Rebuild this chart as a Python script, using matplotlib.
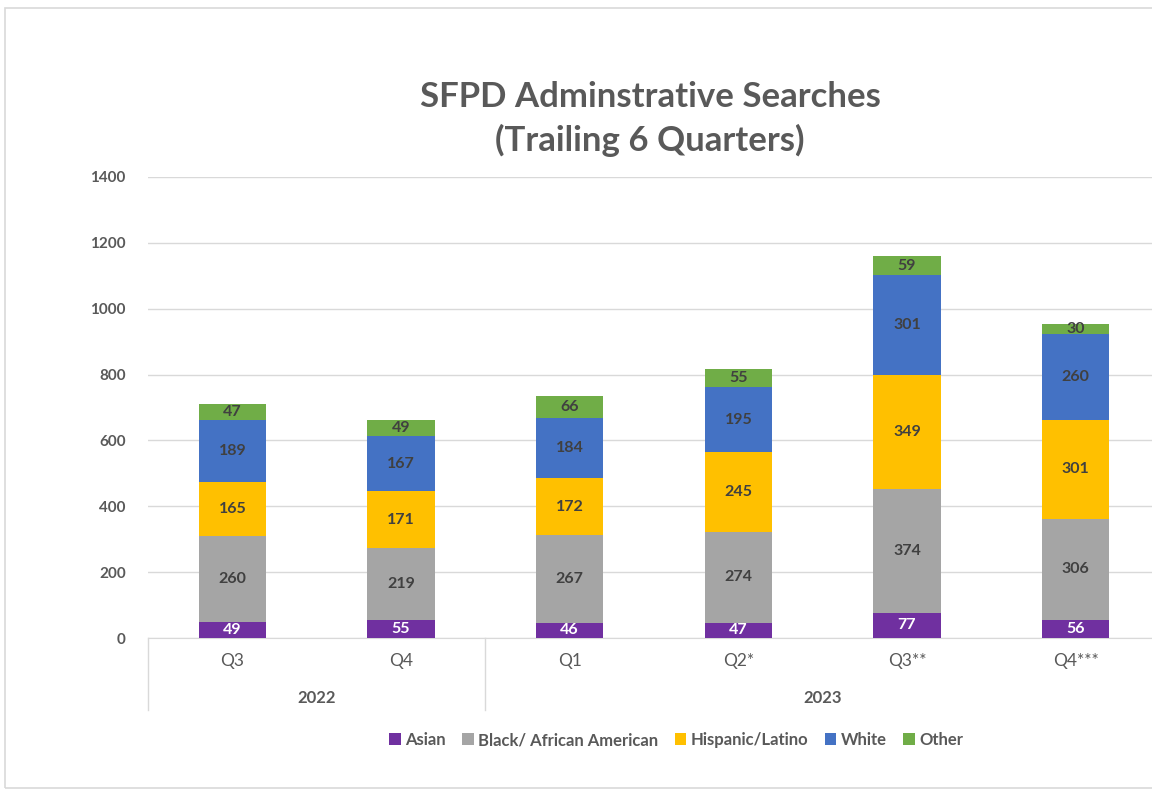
import matplotlib
matplotlib.use("Agg")
import matplotlib.pyplot as plt
from matplotlib.patches import Rectangle
import numpy as np

quarters = ["Q3", "Q4", "Q1", "Q2*", "Q3**", "Q4***"]
years = ["2022", "2023"]
year_groups = [2, 4]
series = ["Asian", "Black/ African American", "Hispanic/Latino", "White", "Other"]
asian = [49, 55, 46, 47, 77, 56]
black = [260, 219, 267, 274, 374, 306]
hispanic = [165, 171, 172, 245, 349, 301]
white = [189, 167, 184, 195, 301, 260]
other = [47, 49, 66, 55, 59, 30]
colors = ["#7030A0", "#A5A5A5", "#FFC000", "#4472C4", "#70AD47"]
label_colors = ["white", "#404040", "#404040", "#404040", "#404040"]
yticks = [0, 200, 400, 600, 800, 1000, 1200, 1400]

plt.rcParams['font.family'] = ['Lato', 'DejaVu Sans']
W, H = 1152, 791
fig = plt.figure(figsize=(W / 100, H / 100), dpi=100)
fig.patches.append(Rectangle((5 / W, 3 / H), 1.2, 1 - 11 / H, transform=fig.transFigure,
                             fill=False, edgecolor="#D9D9D9", linewidth=1.2))

left, right = 148 / W, 1160 / W
bottom, top = (H - 638) / H, (H - 177) / H
ax = fig.add_axes([left, bottom, right - left, top - bottom])

x = np.arange(len(quarters))
data = [asian, black, hispanic, white, other]
base = np.zeros(len(quarters))
for vals, c, lc, name in zip(data, colors, label_colors, series):
    vals = np.array(vals)
    bars = ax.bar(x, vals, bottom=base, width=0.40, color=c, label=name, zorder=3)
    ax.bar_label(bars, labels=[str(v) for v in vals], label_type="center",
                 color=lc, fontsize=11.5, fontweight="bold")
    base += vals

ax.set_xlim(-0.5, len(quarters) - 0.5)
ax.set_ylim(0, 1400)
ax.set_yticks(yticks)
ax.grid(axis="y", color="#D9D9D9", linewidth=1, zorder=0)
ax.tick_params(axis="y", length=0, pad=16, labelsize=11, labelcolor="#595959")
for lab in ax.get_yticklabels():
    lab.set_fontweight("bold")
ax.set_xticks(x)
ax.set_xticklabels(quarters)
ax.tick_params(axis="x", length=0, pad=11, labelsize=12.5, labelcolor="#595959")
for s in ["top", "right", "left"]:
    ax.spines[s].set_visible(False)
ax.spines["bottom"].set_color("#D9D9D9")

# group separators and year labels
sep_depth = -72 / 461
edges = [-0.5]
pos = -0.5
for n in year_groups:
    pos += n
    edges.append(pos)
for e in edges:
    ax.plot([e, e], [0, sep_depth], transform=ax.get_xaxis_transform(),
            color="#D9D9D9", linewidth=1, clip_on=False)
for i, (yr, n) in enumerate(zip(years, year_groups)):
    center = (edges[i] + edges[i + 1]) / 2
    ax.text(center, -60 / 461, yr, transform=ax.get_xaxis_transform(),
            ha="center", va="center", fontsize=12, color="#595959", fontweight="bold")

fig.text(650 / W, 1 - 119 / H, "SFPD Adminstrative Searches\n(Trailing 6 Quarters)",
         ha="center", va="center", fontsize=25, fontweight="bold", color="#595959",
         linespacing=1.4)

handles, labels = ax.get_legend_handles_labels()
leg = fig.legend(handles, labels, loc="center", bbox_to_anchor=(676 / W, 1 - 740 / H),
                 ncol=5, frameon=False, handlelength=0.7, handleheight=0.7,
                 handletextpad=0.25, columnspacing=1.0,
                 prop={"size": 12, "weight": "bold"})
for t in leg.get_texts():
    t.set_color("#595959")

fig.savefig("out.png", dpi=100)
